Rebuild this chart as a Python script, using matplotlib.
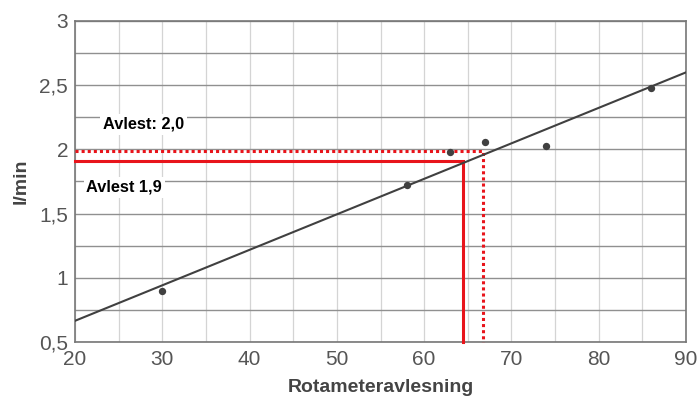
import matplotlib
matplotlib.use("Agg")
import matplotlib.pyplot as plt
import numpy as np
from matplotlib.ticker import FuncFormatter, MultipleLocator

plt.rcParams['font.family'] = ['Liberation Sans', 'DejaVu Sans']

# Data
x_points = [30, 58, 63, 67, 74, 86]
y_points = [0.90, 1.72, 1.98, 2.06, 2.03, 2.48]
fit_x = [20, 90]
fit_y = [0.665, 2.60]
read_solid_x = 64.4
read_solid_y = 1.91
read_dot_x = 66.7
read_dot_y = 1.99
x_ticks = [20, 30, 40, 50, 60, 70, 80, 90]
y_ticks = [0.5, 1, 1.5, 2, 2.5, 3]
label_solid = "Avlest 1,9"
label_dot = "Avlest: 2,0"

fig = plt.figure(figsize=(6.98, 3.96), dpi=100)
ax = fig.add_axes([75/698, 1-342/396, (686-75)/698, (342-21)/396])
ax.set_xlim(20, 90)
ax.set_ylim(0.5, 3)

ax.xaxis.set_minor_locator(MultipleLocator(5))
ax.yaxis.set_minor_locator(MultipleLocator(0.25))
ax.set_xticks(x_ticks)
ax.set_yticks(y_ticks)
ax.grid(True, which='both', axis='x', color='#d4d4d4', lw=0.9)
ax.grid(True, which='both', axis='y', color='#909090', lw=1.0)
ax.set_axisbelow(True)
ax.tick_params(which='both', length=0, labelsize=15, labelcolor='#555555')
ax.tick_params(axis='x', pad=6)
ax.tick_params(axis='y', pad=5)
fmt = FuncFormatter(lambda v, p: (f"{v:g}").replace('.', ','))
ax.xaxis.set_major_formatter(fmt)
ax.yaxis.set_major_formatter(fmt)
for s in ax.spines.values():
    s.set_color('#777777')
    s.set_linewidth(1.2)

# red reading lines
ax.plot([20, read_solid_x, read_solid_x], [read_solid_y, read_solid_y, 0.5],
        color='#e8141b', lw=2.2, solid_joinstyle='miter', zorder=3, clip_on=False)
ax.plot([20, read_dot_x, read_dot_x], [read_dot_y, read_dot_y, 0.5],
        color='#e8141b', lw=2.2, ls=(0, (1, 1)), zorder=3, clip_on=False)

# fit line
ax.plot(fit_x, fit_y, color='#404040', lw=1.5, zorder=4)
ax.scatter(x_points, y_points, s=28, color='#404040', zorder=5, lw=0)

ax.text(23.2, 2.195, label_dot, fontsize=11.8, fontweight='bold', color='black',
        va='center', ha='left', zorder=6,
        bbox=dict(facecolor='white', edgecolor='none', pad=2))
ax.text(21.3, 1.705, label_solid, fontsize=11.8, fontweight='bold', color='black',
        va='center', ha='left', zorder=6,
        bbox=dict(facecolor='white', edgecolor='none', pad=2))

ax.set_xlabel("Rotameteravlesning", fontsize=14, fontweight='bold', color='#444444', labelpad=7)
ax.set_ylabel("l/min", fontsize=14, fontweight='bold', color='#444444', labelpad=7)

fig.savefig("out.png", dpi=100)
